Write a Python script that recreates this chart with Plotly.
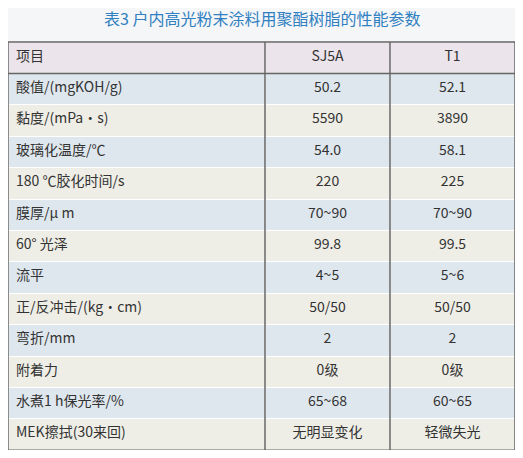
import plotly.graph_objects as go

title = "表3 户内高光粉末涂料用聚酯树脂的性能参数"
header = ["项目", "SJ5A", "T1"]
items = ["酸值/(mgKOH/g)", "黏度/(mPa·s)", "玻璃化温度/℃", "180 ℃胶化时间/s",
         "膜厚/μ m", "60° 光泽", "流平", "正/反冲击/(kg·cm)", "弯折/mm",
         "附着力", "水煮1 h保光率/%", "MEK擦拭(30来回)"]
sj5a = ["50.2", "5590", "54.0", "220", "70~90", "99.8", "4~5", "50/50", "2",
        "0级", "65~68", "无明显变化"]
t1 = ["52.1", "3890", "58.1", "225", "70~90", "99.5", "5~6", "50/50", "2",
      "0级", "60~65", "轻微失光"]

# page body adds an 8px margin, so the figure is drawn 8px in from the window
OFF = 8
W, H = 523 - 2 * OFF, 458 - 2 * OFF
x0, x1, top, rh = 8 - OFF, 515 - OFF, 42 - OFF, 31.4
n = len(items) + 1
bottom = top + rh * n
fills = ["#dfe7ee" if i % 2 == 0 else "#eeeee6" for i in range(len(items))]
font = dict(family="Noto Sans CJK SC", size=14, color="#333333")

fig = go.Figure(go.Table(
    domain=dict(x=[x0 / W, x1 / W], y=[max(0, 1 - bottom / H), 1 - top / H]),
    columnwidth=[257, 125, 125],
    header=dict(values=header, fill_color="#ebe4ea", line_color="#ffffff",
                align=["left", "center", "center"], font=font, height=rh),
    cells=dict(values=[items, sj5a, t1], fill_color=[fills] * 3,
               line_color="#ffffff", align=["left", "center", "center"],
               font=font, height=rh),
))

dark = dict(color="#666666", width=1.5)
xa = x0 + 257
xb = xa + 125
shapes = [
    dict(type="rect", x0=x0, x1=x1, y0=top, y1=bottom, line=dark),
    dict(type="line", x0=xa, x1=xa, y0=top, y1=bottom, line=dark),
    dict(type="line", x0=xb, x1=xb, y0=top, y1=bottom, line=dark),
    dict(type="line", x0=x0, x1=x1, y0=top + rh, y1=top + rh, line=dark),
]
for s in shapes:
    s.update(xref="paper", yref="paper")
    s["x0"] /= W; s["x1"] /= W
    s["y0"] = 1 - s["y0"] / H; s["y1"] = 1 - s["y1"] / H

fig.update_layout(
    width=W, height=H, margin=dict(l=0, r=0, t=0, b=0),
    paper_bgcolor="#f5f6f8", shapes=shapes,
    annotations=[dict(text=title, x=0.5, y=1 - (18 - OFF) / H, xref="paper",
                      yref="paper", yanchor="middle", showarrow=False,
                      font=dict(family="Noto Sans CJK SC", size=16, color="#2f7fc1"))],
)
fig.write_html("out.html")
